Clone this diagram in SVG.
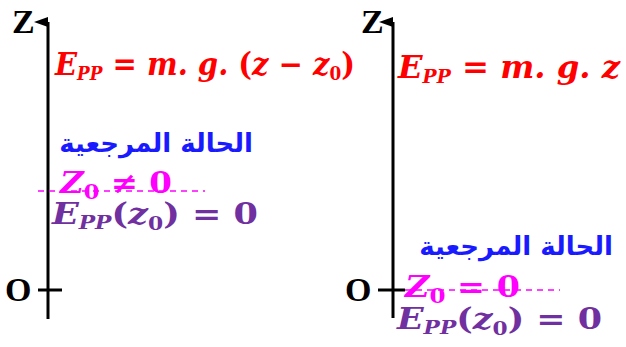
<svg xmlns="http://www.w3.org/2000/svg" width="626" height="347" viewBox="0 0 626 347">
<style>
.ax{stroke:#000;stroke-width:3;fill:none}
.lbl{font-family:"Liberation Serif",serif;font-weight:bold;font-size:34px;fill:#000}
.m{font-family:"DejaVu Serif",serif;font-weight:bold;font-style:italic}
.u{font-style:normal}
.red{fill:#FF0000;font-size:31px}
.mag{fill:#FF00FF;font-size:29px}
.pur{fill:#7030A0;font-size:29px}
.ar{font-family:"DejaVu Sans",sans-serif;font-weight:bold;font-size:26px;fill:#1A1AFF;direction:rtl}
.dash{stroke:#FF00FF;stroke-width:1.5;stroke-dasharray:6 5;fill:none}
</style>
<defs>
<marker id="ah" markerWidth="10" markerHeight="14" refX="5" refY="14" orient="auto" markerUnits="userSpaceOnUse" viewBox="0 0 10 14">
<path d="M0,14 L5,0 L10,14 Z" fill="#000"/>
</marker>
</defs>
<g id="connectors">
<line class="ax" x1="48" y1="319" x2="48" y2="22" marker-end="url(#ah)"/>
<line class="ax" x1="38" y1="290" x2="62" y2="290"/>
<line class="ax" x1="393" y1="318" x2="393" y2="22" marker-end="url(#ah)"/>
<line class="ax" x1="378" y1="290" x2="405" y2="290"/>
<line class="dash" x1="38" y1="191" x2="205" y2="191"/>
<line class="dash" x1="405" y1="290" x2="560" y2="290"/>
</g>
<g id="left-axis-labels">
<text class="lbl" x="12" y="33">Z</text>
<text class="lbl" x="5" y="301">O</text>
</g>
<g id="right-axis-labels">
<text class="lbl" x="361" y="33">Z</text>
<text class="lbl" x="345" y="301">O</text>
</g>
<g id="left-formula">
<text class="m red" x="55" y="75" textLength="300" lengthAdjust="spacingAndGlyphs">E<tspan font-size="18" dy="5">PP</tspan><tspan dy="-5"> </tspan><tspan class="u">=</tspan> m. g. <tspan class="u">(</tspan>z <tspan class="u">−</tspan> z<tspan class="u" font-size="18" dy="5">0</tspan><tspan class="u" dy="-5">)</tspan></text>
</g>
<g id="right-formula">
<text class="m red" x="398" y="78" textLength="222" lengthAdjust="spacingAndGlyphs">E<tspan font-size="18" dy="5">PP</tspan><tspan dy="-5"> </tspan><tspan class="u">=</tspan> m. g. z</text>
</g>
<g id="left-ref">
<text class="ar" x="253" y="152">الحالة المرجعية</text>
<text class="m mag" x="60" y="193" textLength="112" lengthAdjust="spacingAndGlyphs">Z<tspan class="u" font-size="20" dy="6">0</tspan><tspan class="u" dy="-6"> ≠ 0</tspan></text>
<text class="m pur" x="52" y="224" textLength="206" lengthAdjust="spacingAndGlyphs">E<tspan font-size="18" dy="5">PP</tspan><tspan class="u" dy="-5">(</tspan>z<tspan class="u" font-size="18" dy="6">0</tspan><tspan class="u" dy="-6">) = 0</tspan></text>
</g>
<g id="right-ref">
<text class="ar" x="613" y="255">الحالة المرجعية</text>
<text class="m mag" x="405" y="297" textLength="115" lengthAdjust="spacingAndGlyphs">Z<tspan class="u" font-size="20" dy="6">0</tspan><tspan class="u" dy="-6"> = 0</tspan></text>
<text class="m pur" x="397" y="329" textLength="205" lengthAdjust="spacingAndGlyphs">E<tspan font-size="18" dy="5">PP</tspan><tspan class="u" dy="-5">(</tspan>z<tspan class="u" font-size="18" dy="6">0</tspan><tspan class="u" dy="-6">) = 0</tspan></text>
</g>
</svg>
